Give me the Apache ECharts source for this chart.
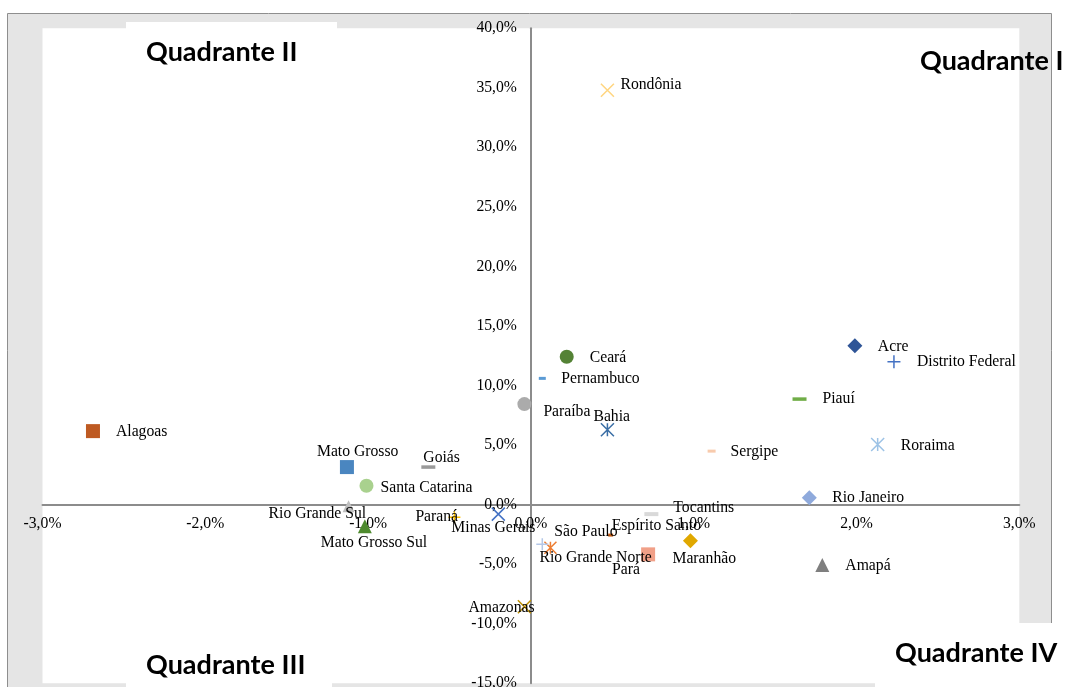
<!DOCTYPE html>
<html>
<head>
<meta charset="utf-8">
<script src="https://cdn.jsdelivr.net/npm/echarts@6/dist/echarts.min.js"></script>
<style>
  html, body { margin: 0; padding: 0; background: #ffffff; }
  #chart { width: 1066px; height: 687px; }
</style>
</head>
<body>
<div id="chart"></div>
<script>
// Estados: variação x (%) e variação y (%)
const states = [
  'Acre', 'Alagoas', 'Amapá', 'Amazonas', 'Bahia', 'Ceará', 'Distrito Federal',
  'Espírito Santo', 'Goiás', 'Maranhão', 'Mato Grosso', 'Mato Grosso Sul',
  'Minas Gerais', 'Pará', 'Paraíba', 'Paraná', 'Pernambuco', 'Piauí',
  'Rio Grande Norte', 'Rio Grande Sul', 'Rio Janeiro', 'Rondônia', 'Roraima',
  'Santa Catarina', 'São Paulo', 'Sergipe', 'Tocantins'
];
const xValues = [
  1.99, -2.69, 1.79, -0.04, 0.47, 0.22, 2.23,
  0.49, -0.63, 0.98, -1.13, -1.02,
  -0.20, 0.72, -0.04, -0.47, 0.07, 1.65,
  0.12, -1.12, 1.71, 0.47, 2.13,
  -1.01, 0.07, 1.11, 0.74
];
const yValues = [
  13.33, 6.17, -5.08, -8.58, 6.28, 12.41, 11.99,
  -2.56, 3.15, -3.04, 3.15, -1.81,
  -0.80, -4.18, 8.44, -1.07, 10.60, 8.86,
  -3.63, -0.13, 0.57, 34.80, 5.04,
  1.58, -3.34, 4.49, -0.80
];
const xTicks = { min: -3, max: 3, step: 1 };
const yTicks = { min: -15, max: 40, step: 5 };
const quadrantNames = ['Quadrante I', 'Quadrante II', 'Quadrante III', 'Quadrante IV'];

// Marker shapes
const X_PATH = 'path://M0,0L10,10M10,0L0,10';
const STAR_PATH = 'path://M0,0L10,10M10,0L0,10M5,0L5,10';
const PLUS_PATH = 'path://M5,0L5,10M0,5L10,5';

// [shape, colour, size] per state
const markerStyle = {
  'Acre': ['diamond', '#2F5597', 15],
  'Alagoas': ['rect', '#BE5A22', 14],
  'Amapá': ['triangle', '#7F7F7F', 14],
  'Amazonas': ['x', '#BF9000', 13],
  'Bahia': ['star', '#3A6EA5', 13],
  'Ceará': ['circle', '#548235', 14],
  'Distrito Federal': ['plus', '#4472C4', 13],
  'Espírito Santo': ['dash', '#C55A11', [5, 3]],
  'Goiás': ['dash', '#9A9A9A', [14, 3.5]],
  'Maranhão': ['diamond', '#E0A800', 15],
  'Mato Grosso': ['rect', '#4A86C0', 14],
  'Mato Grosso Sul': ['triangle', '#4E8A2E', 14],
  'Minas Gerais': ['x', '#4472C4', 13],
  'Pará': ['rect', '#F1A088', 14],
  'Paraíba': ['circle', '#ABABAB', 14],
  'Paraná': ['plus', '#FFC000', 12],
  'Pernambuco': ['dash', '#5B9BD5', [7, 3]],
  'Piauí': ['dash', '#70AD47', [14, 3.5]],
  'Rio Grande Norte': ['star', '#ED7D31', 12],
  'Rio Grande Sul': ['triangle', '#BFBFBF', 12],
  'Rio Janeiro': ['diamond', '#8FAADC', 15],
  'Rondônia': ['x', '#FFD580', 13],
  'Roraima': ['star', '#9DC3E6', 13],
  'Santa Catarina': ['circle', '#A9D18E', 14],
  'São Paulo': ['plus', '#B4C7E7', 12],
  'Sergipe': ['dash', '#F8CBAD', [8, 3]],
  'Tocantins': ['dash', '#D9D9D9', [14, 4]]
};

// Label placement: offset from marker centre to label's left/middle point
const labelOffset = {
  'Acre': [23, 1], 'Alagoas': [23, 1], 'Amapá': [23, 1], 'Amazonas': [-56, 1],
  'Bahia': [-14, -13], 'Ceará': [23, 1.5], 'Distrito Federal': [23, 0],
  'Espírito Santo': [1, -9], 'Goiás': [-5, -9], 'Maranhão': [-18, 18],
  'Mato Grosso': [-30, -15], 'Mato Grosso Sul': [-44, 17], 'Minas Gerais': [-47, 14],
  'Pará': [-36, 16], 'Paraíba': [19, 8], 'Paraná': [-39, 0], 'Pernambuco': [19, 1],
  'Piauí': [23, 0], 'Rio Grande Norte': [-11, 10], 'Rio Grande Sul': [-80, 8],
  'Rio Janeiro': [23, 0], 'Rondônia': [13, -5], 'Roraima': [23, 1],
  'Santa Catarina': [14, 2], 'São Paulo': [12, -12], 'Sergipe': [19, 1],
  'Tocantins': [22, -6]
};

const SERIF = '"Liberation Serif", "Times New Roman", serif';
const pct = v => v.toFixed(1).replace('.', ',') + '%';

// Plot rectangle
const W = 1066, H = 687;
const GRID = { left: 42.5, right: 46.7, top: 28.3, bottom: 3.8 };
const plotW = W - GRID.left - GRID.right;
const plotH = H - GRID.top - GRID.bottom;
// Axes cross at the origin: shift each axis from its grid edge to zero
const yAxisShift = plotW * (0 - xTicks.min) / (xTicks.max - xTicks.min);
const xAxisShift = plotH * (0 - yTicks.min) / (yTicks.max - yTicks.min);

function pointItem(name, i) {
  const [shape, color, size] = markerStyle[name];
  const item = { name: name, value: [xValues[i], yValues[i]], symbolSize: size };
  if (shape === 'x' || shape === 'star' || shape === 'plus') {
    item.symbol = shape === 'x' ? X_PATH : shape === 'star' ? STAR_PATH : PLUS_PATH;
    item.itemStyle = { color: 'none', borderColor: color, borderWidth: 1.5, opacity: 1 };
  } else {
    item.symbol = shape === 'dash' ? 'rect' : shape;
    item.itemStyle = { color: color, borderWidth: 0, opacity: 1 };
  }
  item.label = {
    show: true,
    formatter: name,
    position: 'inside',
    align: 'left',
    verticalAlign: 'middle',
    offset: labelOffset[name],
    color: '#000000',
    fontFamily: SERIF,
    fontSize: 15.7,
    textBorderWidth: 0
  };
  return item;
}

const quadText = (text, x, y) => ({
  type: 'text', z: 5, silent: true,
  style: {
    text: text, x: x, y: y, fill: '#000000',
    font: 'bold 27px Lato, "Open Sans", sans-serif',
    textVerticalAlign: 'middle', verticalAlign: 'middle'
  }
});

const chart = echarts.init(document.getElementById('chart'), null, { renderer: 'canvas' });
chart.setOption({
  animation: false,
  backgroundColor: '#ffffff',
  graphic: [
    // chart area frame
    { type: 'rect', z: -20, silent: true,
      shape: { x: 7.5, y: 13.5, width: 1044, height: 720 },
      style: { fill: '#E5E5E5', stroke: '#8E8E8E', lineWidth: 1 } },
    // text boxes behind the quadrant titles
    { type: 'rect', z: -5, silent: true,
      shape: { x: 126, y: 22, width: 211, height: 40 }, style: { fill: '#ffffff' } },
    { type: 'rect', z: -5, silent: true,
      shape: { x: 126, y: 640, width: 206, height: 50 }, style: { fill: '#ffffff' } },
    { type: 'rect', z: -5, silent: true,
      shape: { x: 875, y: 623, width: 200, height: 70 }, style: { fill: '#ffffff' } },
    quadText(quadrantNames[0], 920, 61),
    quadText(quadrantNames[1], 146, 52),
    quadText(quadrantNames[2], 146, 665),
    quadText(quadrantNames[3], 895, 653)
  ],
  grid: {
    left: GRID.left, right: GRID.right, top: GRID.top, bottom: GRID.bottom,
    containLabel: false, outerBoundsMode: 'none',
    show: true, backgroundColor: '#ffffff', borderWidth: 0
  },
  xAxis: {
    type: 'value', min: xTicks.min, max: xTicks.max, interval: xTicks.step,
    position: 'bottom', offset: -xAxisShift,
    axisLine: { onZero: false, lineStyle: { color: '#8C8C8C', width: 2 } },
    axisTick: { show: false },
    splitLine: { show: false },
    axisLabel: {
      formatter: pct, color: '#000000', fontFamily: SERIF, fontSize: 15.7, margin: 11,
      hideOverlap: false
    }
  },
  yAxis: {
    type: 'value', min: yTicks.min, max: yTicks.max, interval: yTicks.step,
    position: 'left', offset: -yAxisShift,
    axisLine: { onZero: false, lineStyle: { color: '#8C8C8C', width: 2 } },
    axisTick: { show: false },
    splitLine: { show: false },
    axisLabel: {
      formatter: pct, color: '#000000', fontFamily: SERIF, fontSize: 15.7, margin: 14,
      hideOverlap: false
    }
  },
  series: [{
    type: 'scatter',
    silent: true,
    z: 3,
    data: states.map(pointItem)
  }]
});
</script>
</body>
</html>
